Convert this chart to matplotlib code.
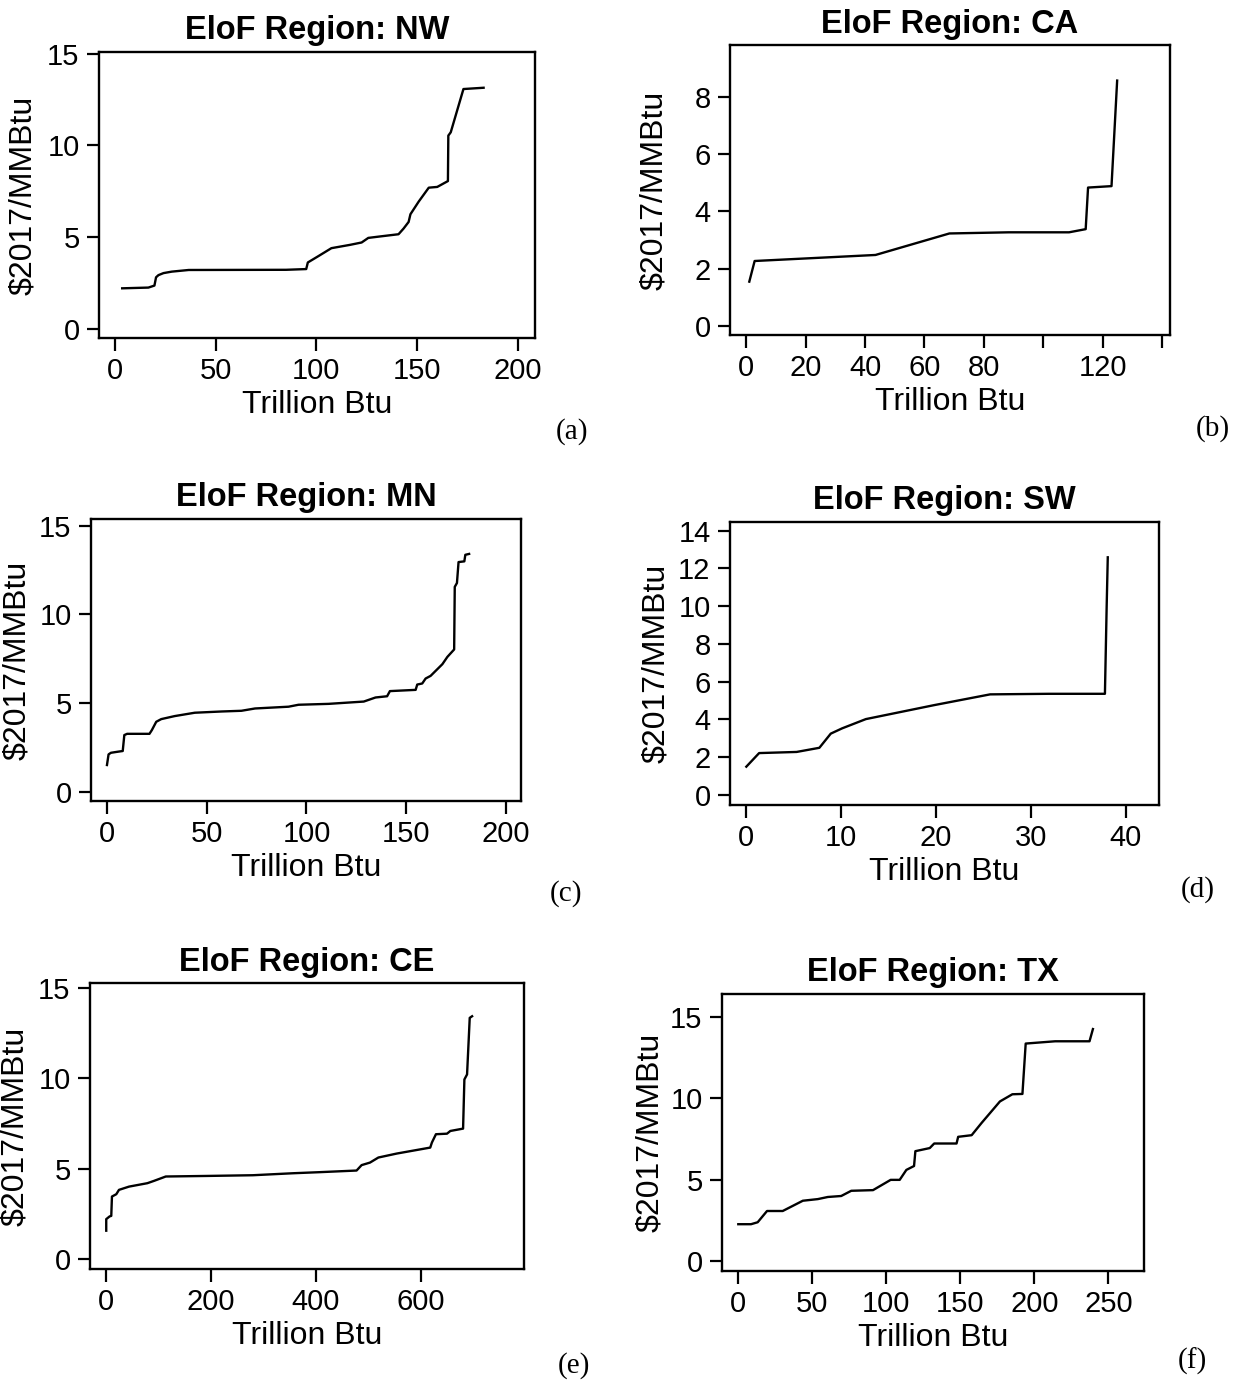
import matplotlib
matplotlib.use("Agg")
import matplotlib.pyplot as plt

plt.rcParams['font.family'] = ['Liberation Sans', 'DejaVu Sans']

# --- datos (Trillion Btu, $2017/MMBtu) ---
nw_x = [3.7, 16.7, 19.7, 20.5, 21.7, 24.2, 28.3, 36.7, 85, 95, 95.8, 100.8, 107.5, 116.7,
        122.5, 125.8, 131.7, 140.8, 143.3, 145.8, 146.7, 150.8, 155.8, 160, 165.3, 165.5,
        166.7, 173, 183]
nw_y = [2.21, 2.25, 2.36, 2.81, 2.93, 3.04, 3.12, 3.21, 3.22, 3.26, 3.62, 3.95, 4.40, 4.58,
        4.71, 4.96, 5.04, 5.16, 5.47, 5.83, 6.25, 6.94, 7.70, 7.74, 8.06, 10.54,
        10.72, 13.08, 13.15]

ca_x = [1.0, 2.8, 43.5, 68.4, 88.4, 108.7, 114.3, 115.1, 123.0, 124.9]
ca_y = [1.55, 2.27, 2.48, 3.23, 3.27, 3.27, 3.38, 4.83, 4.88, 8.56]

mn_x = [0, 0.8, 2.0, 5.4, 7.9, 8.7, 10.1, 21.3, 22.5, 24.7, 27.2, 33.9, 44, 57.4, 67.4, 74.2,
        91, 96, 111, 128.7, 134.6, 140.4, 141.8, 154.7, 155.5, 158, 159.7, 162.2, 168.1,
        170.6, 174, 174.3, 175.4, 176.2, 179.1, 179.6, 181.5]
mn_y = [1.5, 2.1, 2.19, 2.25, 2.29, 3.19, 3.26, 3.26, 3.47, 3.94, 4.09, 4.26, 4.45, 4.52, 4.56,
        4.69, 4.79, 4.90, 4.95, 5.08, 5.31, 5.38, 5.67, 5.74, 6.04, 6.10, 6.38, 6.53, 7.19,
        7.60, 8.02, 11.55, 11.77, 12.95, 12.99, 13.36, 13.41]

sw_x = [0, 1.35, 5.3, 7.7, 8.9, 10.1, 12.6, 19.8, 25.7, 31.9, 37.8, 37.98, 38.1]
sw_y = [1.50, 2.22, 2.28, 2.50, 3.25, 3.53, 4.02, 4.76, 5.33, 5.36, 5.36, 9.91, 12.59]

ce_x = [0, 0, 6.4, 9.6, 10.9, 19.2, 24.3, 43.5, 78.6, 91.4, 113.7, 190.4, 279.9, 356.5, 407.7,
        477.9, 487.5, 503.5, 519.5, 554.6, 618.5, 621.7, 629.4, 650.5, 656.9, 681.2, 683.7,
        688.8, 693.9, 698.4]
ce_y = [1.57, 2.21, 2.36, 2.39, 3.46, 3.59, 3.83, 4.01, 4.20, 4.33, 4.57, 4.60, 4.64, 4.75, 4.81,
        4.90, 5.20, 5.34, 5.62, 5.84, 6.17, 6.45, 6.91, 6.94, 7.09, 7.22, 9.94,
        10.22, 13.35, 13.44]

tx_x = [0, 8.6, 13.1, 19.4, 30, 43.6, 53.7, 60.5, 69.5, 76.3, 91, 102.9, 109, 113.5, 118.7,
        119.6, 129.3, 132.3, 147.4, 148.5, 157.6, 164.3, 176.7, 185.1, 191.9, 194.1, 214,
        237.2, 239.5]
tx_y = [2.27, 2.27, 2.39, 3.08, 3.08, 3.71, 3.81, 3.94, 4.00, 4.32, 4.36, 4.99, 4.99, 5.60, 5.84,
        6.75, 6.94, 7.22, 7.22, 7.63, 7.73, 8.48, 9.80, 10.24, 10.26, 13.35, 13.49,
        13.49, 14.24]

regions = ['NW', 'CA', 'MN', 'SW', 'CE', 'TX']
letters = ['(a)', '(b)', '(c)', '(d)', '(e)', '(f)']

nw_xticks = [0, 50, 100, 150, 200]
ca_xticks = [0, 20, 40, 60, 80, 100, 120, 140]
ca_xticklabels = ['0', '20', '40', '60', '80', '', '120', '']
mn_xticks = [0, 50, 100, 150, 200]
sw_xticks = [0, 10, 20, 30, 40]
ce_xticks = [0, 200, 400, 600]
tx_xticks = [0, 50, 100, 150, 200, 250]
yticks_15 = [0, 5, 10, 15]
ca_yticks = [0, 2, 4, 6, 8]
sw_yticks = [0, 2, 4, 6, 8, 10, 12, 14]

# --- layout (pixeles de la figura original) ---
W, H = 1241, 1380
boxes = [(99, 535, 52, 338), (730, 1170, 45, 335),
         (91, 521, 519, 801), (730, 1159, 522, 805),
         (90, 524, 983, 1269), (722, 1144, 994, 1271)]
xlims = [(-7.8, 208.5), (-5.5, 142.7), (-8.0, 207.5), (-1.72, 43.5), (-31, 797.5), (-11, 274)]
ylims = [(-0.5, 15.1), (-0.31, 9.8), (-0.53, 15.38), (-0.53, 14.46), (-0.55, 15.28), (-0.6, 16.39)]
ylab_x = [23, 654, 17, 656, 15, 650]
letter_xy = [(572, 432), (1213, 429), (566, 894), (1198, 890), (574, 1366), (1192, 1361)]

series = [(nw_x, nw_y), (ca_x, ca_y), (mn_x, mn_y), (sw_x, sw_y), (ce_x, ce_y), (tx_x, tx_y)]
xticks = [nw_xticks, ca_xticks, mn_xticks, sw_xticks, ce_xticks, tx_xticks]
xticklabels = [None, ca_xticklabels, None, None, None, None]
yticks = [yticks_15, ca_yticks, yticks_15, sw_yticks, yticks_15, yticks_15]

fig = plt.figure(figsize=(W / 100, H / 100), dpi=100)

for i in range(6):
    L, R, T, B = boxes[i]
    ax = fig.add_axes([L / W, 1 - B / H, (R - L) / W, (B - T) / H])
    x, y = series[i]
    ax.plot(x, y, color='black', lw=1.7, solid_joinstyle='round')
    ax.set_xlim(*xlims[i])
    ax.set_ylim(*ylims[i])
    ax.set_xticks(xticks[i])
    if xticklabels[i] is not None:
        ax.set_xticklabels(xticklabels[i])
    ax.set_yticks(yticks[i])
    for s in ax.spines.values():
        s.set_linewidth(1.7)
    ax.tick_params(direction='out', length=9, width=1.6, labelsize=21, color='black')
    ax.tick_params(axis='x', pad=5)
    ax.tick_params(axis='y', pad=5)
    ax.set_title('EloF Region: ' + regions[i], fontsize=23.5, fontweight='bold', pad=9)
    ax.text(0.5, -67 / (B - T), 'Trillion Btu', transform=ax.transAxes,
            ha='center', va='center', fontsize=23)
    ax.text((ylab_x[i] - L) / (R - L), 0.5, '$2017/MMBtu', transform=ax.transAxes,
            ha='center', va='center', rotation=90, fontsize=23)
    lx, ly = letter_xy[i]
    fig.text(lx / W, 1 - ly / H, letters[i], ha='center', va='center',
             fontsize=21, family='Liberation Serif')

fig.savefig('out.png', dpi=100, facecolor='white')
